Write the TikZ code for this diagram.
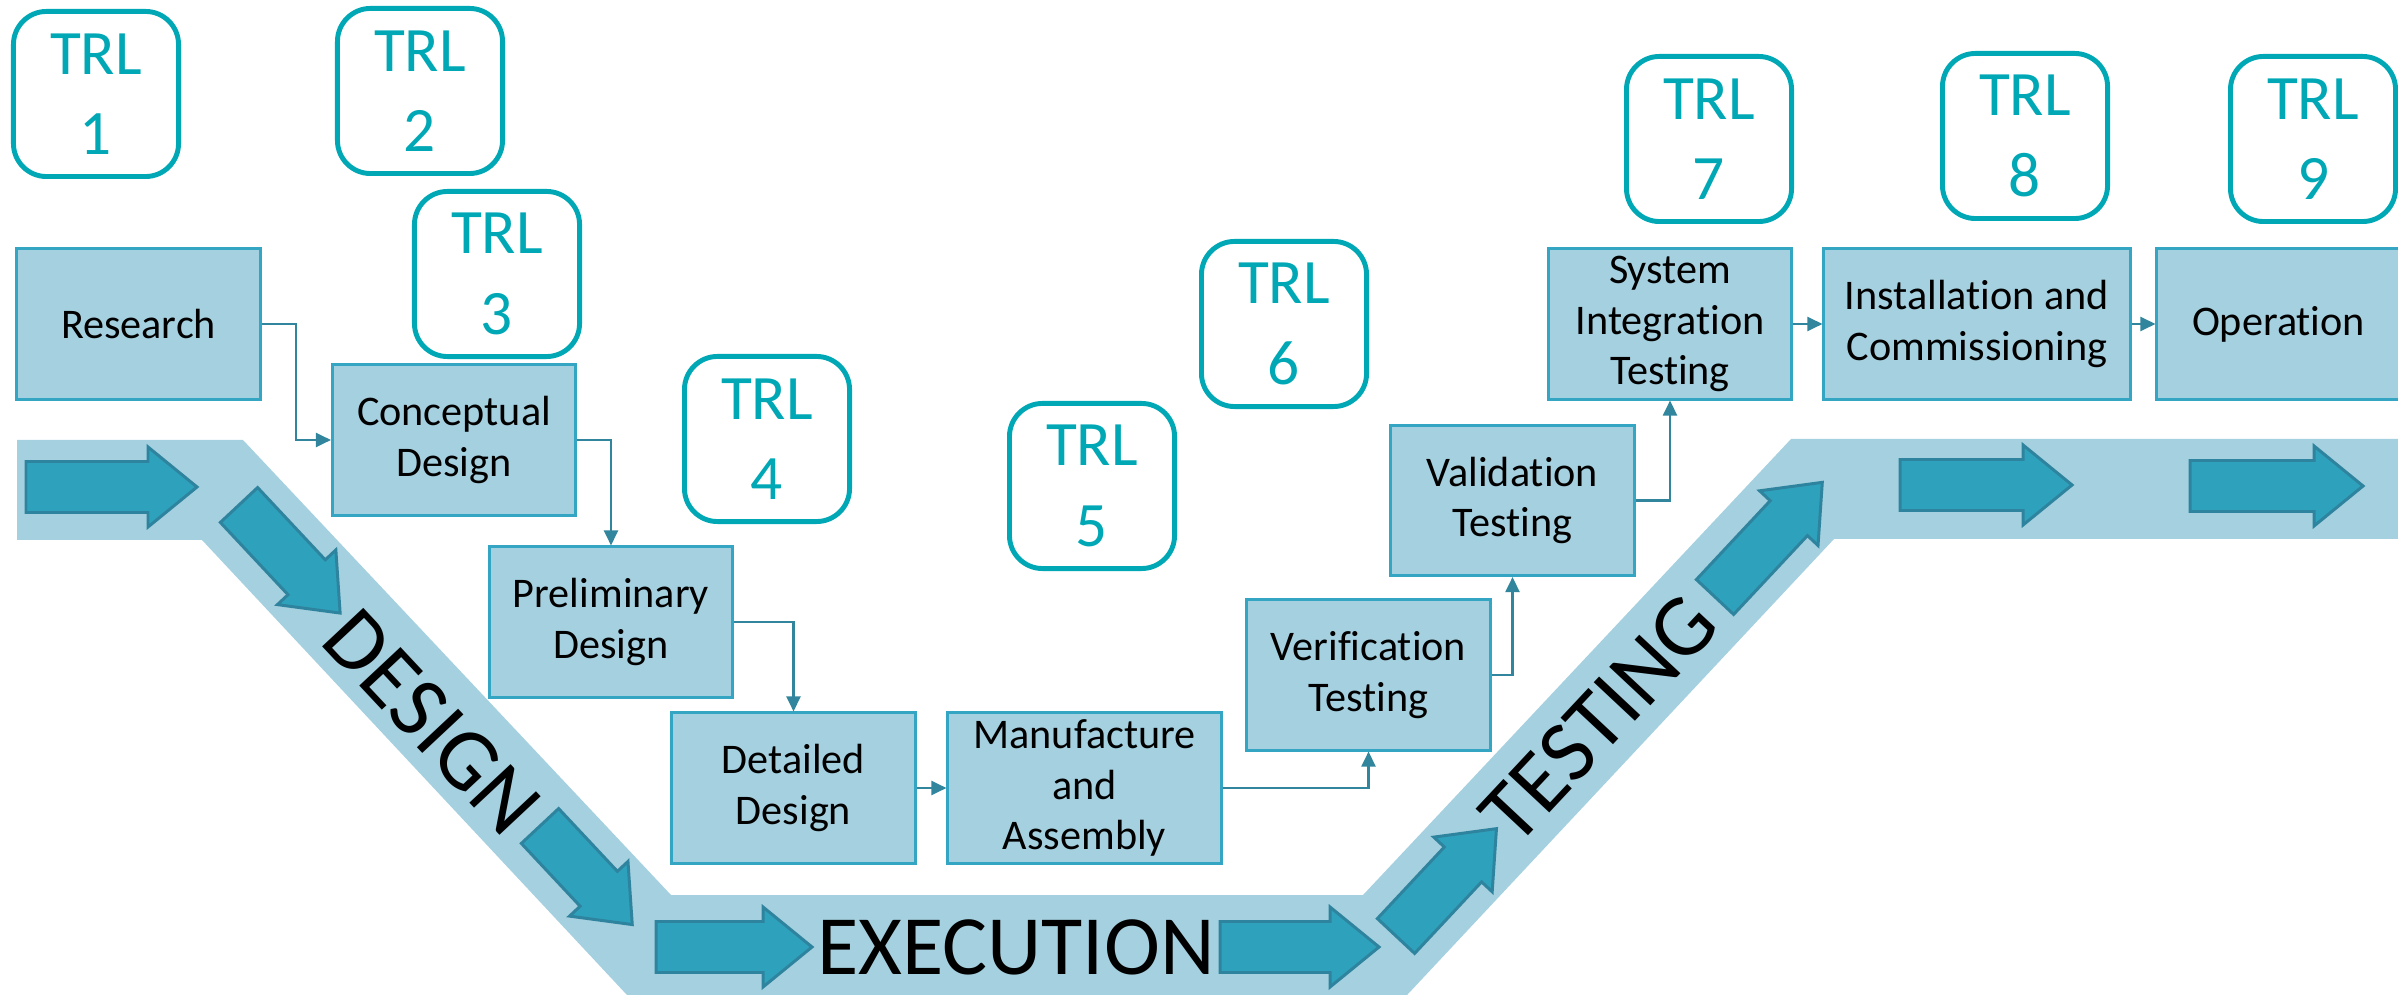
\documentclass[tikz,border=0pt]{standalone}
\usepackage{fontspec}
\setmainfont{Carlito}[Ligatures=NoCommon]
\usetikzlibrary{arrows.meta,calc}

\definecolor{bandfill}{RGB}{165,208,223}
\definecolor{boxfill}{RGB}{165,208,223}
\definecolor{boxline}{RGB}{52,165,194}
\definecolor{linkcol}{RGB}{49,133,156}
\definecolor{arrowfill}{RGB}{46,162,188}
\definecolor{arrowline}{RGB}{46,132,158}
\definecolor{trlcol}{RGB}{0,168,182}

\begin{document}
\begin{tikzpicture}[x=0.01cm,y=-0.01cm,
  stage/.style={draw=boxline, fill=boxfill, line width=0.85pt,
    minimum height=1.5cm, minimum width=2.43cm, inner sep=0pt,
    align=center, text=black, font=\fontsize{12}{14.4}\selectfont},
  trl/.style={draw=trlcol, fill=white, line width=1.4pt,
    rounded corners=0.33cm, minimum width=1.65cm, minimum height=1.65cm,
    inner sep=0pt, align=center, text=trlcol,
    font=\fontsize{18}{22.8}\selectfont},
  link/.style={draw=linkcol, line width=0.6pt,
    -{Triangle[length=0.15cm,width=0.14cm]}},
  phase/.style={inner sep=0pt, text=black, font=\fontsize{25}{30}\selectfont},
  pics/blockarrow/.style={code={
    \filldraw[fill=arrowfill, draw=arrowline, line width=0.85pt, line join=miter]
      (0,-25.5) -- (#1-49,-25.5) -- (#1-49,-40) -- (#1,0)
      -- (#1-49,40) -- (#1-49,25.5) -- (0,25.5) -- cycle;
  }}
]
\clip (0,0) rectangle (2398,995);

% V-shaped lifecycle band
\fill[bandfill] (17,440) -- (243,440) -- (671,895) -- (1363,895)
  -- (1791,439) -- (2420,439) -- (2420,539) -- (1834,539)
  -- (1393,1010) -- (641,1010) -- (202,540) -- (17,540) -- cycle;

% flow arrows along the band
\pic at (26,487) {blockarrow=171};
\pic[rotate=-46.9] at (239,505) {blockarrow=148};
\pic[rotate=-46.9] at (540,826) {blockarrow=135};
\pic at (656,947) {blockarrow=156};
\pic at (1220,947) {blockarrow=159};
\pic[rotate=46.9] at (1396,936) {blockarrow=147};
\pic[rotate=46.9] at (1715,597) {blockarrow=157};
\pic at (1900,485) {blockarrow=172};
\pic at (2190,486) {blockarrow=173};

% phase labels
\node[phase, rotate=-46.9] (design) at (432,722) {DESIGN};
\node[phase, font=\fontsize{24}{28}\selectfont] (execution) at (1016,947) {EXECUTION};
\node[phase, rotate=46.9] (testing) at (1599,719) {TESTING};

% lifecycle stages
\node[stage] (research) at (138.5,324) {Research};
\node[stage] (concept) at (454,440) {Conceptual\\Design};
\node[stage] (prelim) at (611,622) {Preliminary\\Design};
\node[stage] (detail) at (793.5,788) {Detailed\\Design};
\node[stage, minimum width=2.73cm] (manuf) at (1084.5,788) {Manufacture\\and\\Assembly};
\node[stage] (verif) at (1368.5,675) {Verification\\Testing};
\node[stage] (valid) at (1512.5,500.5) {Validation\\Testing};
\node[stage] (sit) at (1670,324) {System\\Integration\\Testing};
\node[stage, minimum width=3.06cm] (install) at (1977,324) {Installation and\\Commissioning};
\node[stage] (oper) at (2278.5,324) {Operation};

% stage-to-stage links
\coordinate (m1) at ($(research.east)!0.5!(concept.west)$);
\draw[link] (research.east) -| (m1) |- (concept.west);
\draw[link] (concept.east) -| (prelim.north);
\draw[link] (prelim.east) -| (detail.north);
\draw[link] (detail.east) -- (manuf.west);
\draw[link] (manuf.east) -| (verif.south);
\draw[link] (verif.east) -| (valid.south);
\draw[link] (valid.east) -| (sit.south);
\draw[link] (sit.east) -- (install.west);
\draw[link] (install.east) -- (oper.west);

% technology readiness levels
\node[trl] (trl1) at (96,94) {TRL\\1};
\node[trl] (trl2) at (420,91) {TRL\\2};
\node[trl] (trl3) at (497,274) {TRL\\3};
\node[trl] (trl4) at (767,439) {TRL\\4};
\node[trl] (trl5) at (1092,486) {TRL\\5};
\node[trl] (trl6) at (1284,324) {TRL\\6};
\node[trl] (trl7) at (1709,139) {TRL\\7};
\node[trl] (trl8) at (2025,136) {TRL\\8};
\node[trl] (trl9) at (2313,139) {TRL\\9};
\end{tikzpicture}
\end{document}
